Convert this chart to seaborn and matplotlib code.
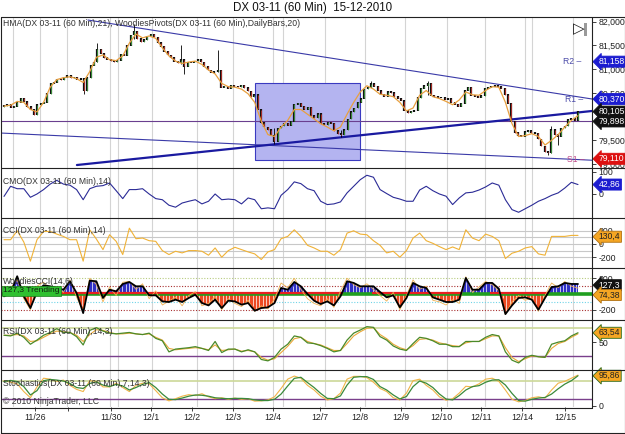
import numpy as np
import pandas as pd
import matplotlib
matplotlib.use("Agg")
import matplotlib.pyplot as plt
import matplotlib.transforms as mtrans
from matplotlib.patches import Rectangle
from matplotlib.lines import Line2D
import seaborn as sns

sns.set_theme(style="white")
plt.rcParams['font.family'] = ['Liberation Sans', 'DejaVu Sans']

# ---------------- data ----------------
title = "DX 03-11 (60 Min)  15-12-2010"
first_open = 80.20
close = [80.23, 80.25, 80.19, 80.22, 80.30, 80.39, 80.32, 80.21, 80.15, 80.04,
         80.25, 80.28, 80.30, 80.48, 80.70, 80.72, 80.79, 80.77, 80.83, 80.86,
         80.82, 80.83, 80.79, 80.80, 80.54, 80.82, 81.08, 81.15, 81.42, 81.33,
         81.24, 81.21, 81.18, 81.15, 81.19, 81.32, 81.29, 81.50, 81.72, 81.80,
         81.64, 81.58, 81.62, 81.70, 81.74, 81.68, 81.56, 81.48, 81.38, 81.30,
         81.24, 81.16, 81.13, 81.20, 81.06, 81.15, 81.14, 81.17, 81.20, 81.15,
         81.06, 80.98, 80.93, 80.95, 80.98, 80.62, 80.64, 80.60, 80.66, 80.64,
         80.63, 80.66, 80.61, 80.54, 80.42, 80.46, 80.15, 79.87, 79.78, 79.72,
         79.60, 79.48, 79.76, 79.80, 79.86, 79.82, 79.90, 80.26, 80.28, 80.22,
         80.15, 80.20, 80.02, 79.97, 80.06, 79.85, 79.83, 79.88, 79.86, 79.70,
         79.64, 79.61, 79.72, 79.95, 80.10, 80.18, 80.30, 80.38, 80.58, 80.62,
         80.69, 80.64, 80.55, 80.47, 80.43, 80.53, 80.50, 80.42, 80.38, 80.34,
         80.13, 80.08, 80.11, 80.13, 80.40, 80.60, 80.65, 80.70, 80.45, 80.42,
         80.39, 80.40, 80.36, 80.38, 80.30, 80.26, 80.22, 80.28, 80.55, 80.62,
         80.45, 80.43, 80.41, 80.44, 80.60, 80.62, 80.64, 80.65, 80.63, 80.60,
         80.46, 80.28, 79.90, 79.66, 79.60, 79.58, 79.68, 79.70, 79.66, 79.65,
         79.53, 79.38, 79.26, 79.24, 79.72, 79.62, 79.58, 79.76, 79.80, 79.94,
         79.96, 79.92, 80.105]
# notable wicks: bar index -> (low, high)
wicks = {24: (80.48, 80.80), 28: (81.15, 81.56), 39: (81.64, 81.95), 53: (81.10, 81.51),
         54: (80.90, 81.20), 64: (80.95, 81.40), 81: (79.43, 79.76), 101: (79.56, 79.72),
         110: (80.62, 80.76), 127: (80.45, 80.76), 163: (79.18, 79.28), 164: (79.24, 79.80),
         166: (79.40, 79.62)}

hma = [80.22, 80.24, 80.32, 80.30, 80.15, 80.10, 80.30, 80.62, 80.78, 80.82,
       80.84, 80.80, 80.72, 80.95, 81.25, 81.30, 81.20, 81.18, 81.28, 81.55,
       81.74, 81.66, 81.70, 81.65, 81.45, 81.28, 81.17, 81.12, 81.15, 81.17,
       81.10, 80.98, 80.90, 80.70, 80.63, 80.62, 80.58, 80.48, 80.30, 79.90,
       79.62, 79.58, 79.78, 79.92, 80.15, 80.15, 80.05, 79.95, 79.85, 79.78,
       79.70, 79.78, 80.05, 80.30, 80.52, 80.65, 80.58, 80.47, 80.45, 80.42,
       80.30, 80.12, 80.18, 80.45, 80.55, 80.42, 80.38, 80.32, 80.25, 80.35,
       80.52, 80.46, 80.45, 80.55, 80.63, 80.62, 80.30, 79.85, 79.58, 79.60,
       79.64, 79.58, 79.40, 79.50, 79.62, 79.78, 79.92, 80.02]

cmo = [-11, 35, 24, 24, -15, 0, 20, 45, 62, 45,
       40, 20, -26, 24, 35, 38, 50, 15, -21, 20,
       20, 24, 0, -21, -26, -51, -60, -41, -33, -26,
       -45, -33, 0, -26, -23, -26, -45, -18, -26, -67,
       -63, -67, -6, 20, 55, 47, 24, 15, -33, -48,
       -45, -36, 5, 35, 65, 85, 76, 20, 2, -15,
       -23, -33, -33, 18, 35, 15, 0, -10, -48, -18,
       5, 8, 18, 32, 50, 40, -26, -71, -83, -67,
       -51, -33, -21, -6, 5, 27, 53, 42.86]

cci = [65, 65, 200, 30, -260, 65, 190, 190, 150, 115,
       65, 65, -260, 215, 75, -85, 140, 40, -160, 240,
       80, 90, 50, 40, -100, -160, -110, -135, -100, -100,
       -110, -170, -60, -200, -100, -50, -85, -120, -150, -235,
       -120, -85, 80, 115, 215, 115, -20, -60, -110, -110,
       -170, -85, 165, 200, 150, 140, 50, -20, -135, -110,
       -200, -100, 90, 165, 50, 10, -40, -85, -45, -85,
       215, 90, 50, 150, 115, 50, -220, -140, -110, -60,
       -40, -150, -170, 115, 115, 115, 130, 130.4]

woodies = [-30, 13, 226, -30, -179, 26, 111, 98, 77, 55,
           162, 13, -243, 170, 162, -51, 55, 34, 128, 153,
           98, 98, -17, -17, -94, -102, -72, -102, -51, -9,
           -115, -145, -72, -179, -85, -94, -136, -115, -213, -179,
           -170, -115, 77, 55, 153, 98, 0, -85, -128, -94,
           -145, -30, 162, 141, 98, 98, 98, 26, -43, -17,
           -170, -51, 141, 98, 77, -43, -72, -102, -102, -72,
           204, 55, 55, 141, 141, 68, -256, -145, -51, -43,
           -72, -200, -51, 89, 98, 141, 128, 127.3]

turbo = [20, 80, 180, -60, -200, 100, 150, 60, 90, 20,
         180, -40, -220, 200, 120, -100, 90, -20, 150, 160,
         60, 130, -60, 40, -140, -90, -40, -150, -20, 30,
         -150, -120, -30, -200, -60, -120, -160, -80, -220, -150,
         -190, -60, 140, 80, 200, 60, -60, -120, -150, -60,
         -170, 40, 200, 120, 80, 130, 60, -20, -90, 20,
         -200, -20, 180, 60, 100, -80, -100, -140, -70, -120,
         220, 20, 90, 160, 120, 40, -260, -100, -20, -80,
         -50, -220, -20, 140, 80, 160, 100, 74.38]

rsi = [60, 59, 63, 57, 47, 53, 60, 64, 69.5, 64,
       64, 58, 46, 67, 71, 66, 63, 62, 63, 64,
       62, 61, 63, 55.5, 52, 36, 40, 41, 42, 43.5,
       41, 38, 51, 35, 40, 40, 36, 39, 36, 25,
       23, 28, 40, 47, 59, 57, 49, 48, 45, 41,
       36, 38, 53, 63, 67.5, 72.4, 71.4, 58, 53, 44.5,
       40, 38, 48, 57, 55.5, 52, 47, 47, 43.5, 43.5,
       51, 51, 51, 57, 61, 59, 36, 24, 20, 28,
       31, 29, 28, 47, 50, 52, 59, 63.54]
rsi_avg = [60, 60, 61, 59, 51, 52, 57, 62, 66, 65,
           64, 60, 51, 61, 68, 67, 64, 62, 62, 63,
           62, 61, 62, 57, 53, 41, 39, 40, 41, 42,
           41, 39, 46, 38, 39, 40, 37, 38, 36, 28,
           24, 26, 35, 44, 55, 57, 51, 48, 46, 42,
           38, 38, 48, 59, 65, 70, 71, 61, 55, 47,
           42, 39, 45, 54, 55, 53, 49, 47, 45, 44,
           49, 51, 51, 55, 59, 59, 42, 28, 22, 26,
           30, 29, 28, 41, 48, 51, 57, 62]

stoch_d = [77, 81, 77, 61, 34, 48, 80, 84, 82, 79,
           71, 58, 55, 71, 76, 66, 61, 68, 63, 50,
           58, 68, 74, 58, 37, 20, 19, 24, 30, 34,
           33, 30, 25, 23, 22, 23, 23, 22, 18, 16,
           16, 20, 37, 63, 87.5, 91, 74, 58, 39, 23,
           22, 31, 66, 91, 93, 93, 84, 61, 50, 34,
           21, 29, 61, 79, 72, 58, 37, 21, 18, 32,
           50, 61, 64, 75, 82, 83, 66, 39, 16, 14,
           20, 24, 26, 37, 54, 69, 80, 95.86]
stoch_k = [80, 75, 70, 45, 25, 60, 88, 85, 78, 82,
           65, 52, 45, 80, 78, 60, 60, 72, 58, 45,
           65, 72, 70, 48, 25, 15, 22, 30, 35, 32,
           38, 28, 22, 25, 20, 24, 20, 22, 14, 15,
           18, 28, 55, 85, 95, 88, 65, 50, 30, 18,
           22, 40, 85, 94, 94, 90, 75, 55, 45, 25,
           18, 40, 80, 85, 65, 50, 28, 17, 22, 40,
           62, 60, 70, 85, 88, 78, 50, 20, 12, 16,
           25, 28, 24, 50, 72, 78, 88, 98]

# time axis (hours from first bar), tick labels
tick_hours = [18.6, 38.4, 64.1, 88.1, 112.7, 137.2, 161.2, 189.4, 213.4, 237.9, 261.9, 285.9, 310.4, 336.2]
tick_labels = ["11/26", "", "11/30", "12/1", "12/2", "12/3", "12/4", "12/7", "12/8", "12/9",
               "12/10", "12/11", "12/14", "12/15"]
grid_hours = [5.4, 21.6, 37.8, 63.5, 68.3, 88.7, 115.7, 137.2, 161.2, 167.2, 192.4, 216.3,
              240.3, 265.5, 288.3, 312.2, 316.4, 341.0]

# drawing objects (hour, price)
upper_line = [(50.3, 82.036), (352.4, 80.371)]
lower_line = [(-2.4, 79.654), (352.4, 79.080)]
up_trend = [(43.7, 78.979), (352.4, 80.118)]
hline_price = 79.898
box = (150.4, 213.4, 79.085, 80.714)
pivots = {"R2": 81.158, "R1": 80.370, "S1": 79.110}

# ---------------- layout helpers ----------------
W, H = 625, 434
fig = plt.figure(figsize=(W / 100, H / 100), dpi=100)
fig.patch.set_facecolor("white")

def fx(px):
    return px / W

def fy(py):
    return 1 - py / H

def prect(x0, y0, x1, y1):
    return [x0 / W, 1 - y1 / H, (x1 - x0) / W, (y1 - y0) / H]

XL = (-1.8, 352.4)
hours_price = np.arange(len(close)) * 2.0
hours_ind = np.linspace(0, hours_price[-1], len(cmo))

panels = [("price", 17, 168, (78.916, 82.10)),
          ("cmo", 168, 218, (-109, 118)),
          ("cci", 218, 268, (-364, 394)),
          ("wood", 268, 320, (-331, 331)),
          ("rsi", 320, 370, (9.8, 82)),
          ("stoch", 370, 407, (-4.8, 114.5))]
axes = {}
for name, y0, y1, yl in panels:
    ax = fig.add_axes(prect(1, y0, 592, y1))
    ax.set_xlim(*XL)
    ax.set_ylim(*yl)
    for s in ax.spines.values():
        s.set_visible(False)
    ax.set_facecolor("white")
    ax.yaxis.tick_right()
    ax.tick_params(axis="y", labelsize=6.3, length=3, width=0.6, pad=1.5,
                   colors="#222222", direction="out", right=True, left=False)
    ax.tick_params(axis="x", bottom=False, labelbottom=False)
    for g in grid_hours:
        ax.axvline(g, color="#d4d4d4", lw=0.8, zorder=0)
    axes[name] = ax

TXT = dict(fontsize=6.2, color="#333333", va="center", ha="left")
GREY = "#c8c8c8"

# ---------------- price panel ----------------
ax = axes["price"]
h0, h1, p0, p1 = box
ax.add_patch(Rectangle((h0, p0), h1 - h0, p1 - p0, fc="#b4b4f0", ec="#3a3ac0", lw=0.8, zorder=1))
ax.axhline(hline_price, color="#6a3f8f", lw=0.8, zorder=2)
ax.plot(*zip(*upper_line), color="#3a3aa8", lw=0.8, zorder=2)
ax.plot(*zip(*lower_line), color="#3a3aa8", lw=0.8, zorder=2)
ax.plot(*zip(*up_trend), color="#1a1aa0", lw=1.6, zorder=2)

c = np.array(close)
o = np.array([first_open] + close[:-1])
for i, (lo_, hi_) in wicks.items():
    ax.vlines(hours_price[i], lo_, hi_, color="black", lw=0.6, zorder=3)
lo = np.minimum(o, c) - 0.008
hi = np.maximum(o, c) + 0.008
ax.vlines(hours_price, lo, hi, color="#111111", lw=1.6, zorder=4)
up = c >= o
ax.vlines(hours_price[up], lo[up] + 0.010, hi[up] - 0.010, color="#3fa03f", lw=0.6, zorder=5)
ax.vlines(hours_price[~up], lo[~up] + 0.010, hi[~up] - 0.010, color="#c03028", lw=0.6, zorder=5)
sns.lineplot(x=hours_ind, y=hma, ax=ax, color="#e8a040", lw=0.9, zorder=6)
pt = [79.0, 79.5, 80.5, 81.0, 81.5, 82.0]
ax.set_yticks(pt)
ax.set_yticklabels([f"{v:.3f}".replace(".", ",") for v in pt])

# ---------------- CMO ----------------
ax = axes["cmo"]
sns.lineplot(x=hours_ind, y=cmo, ax=ax, color="#2b2b96", lw=0.8)
ax.set_yticks([0, 100]); ax.set_yticklabels(["0", "100"])

# ---------------- CCI ----------------
ax = axes["cci"]
for lv in [200, 100, 0, -100, -200]:
    ax.axhline(lv, color=GREY, lw=0.8, zorder=1)
sns.lineplot(x=hours_ind, y=cci, ax=ax, color="#f0b236", lw=0.8, zorder=3)
ax.set_yticks([-200, 0, 200]); ax.set_yticklabels(["-200", "0", "200"])

# ---------------- Woodies CCI ----------------
ax = axes["wood"]
ax.axhline(200, color="#b8cc80", lw=0.8, ls=(0, (1, 1.5)), zorder=1)
ax.axhline(100, color="#a83030", lw=0.8, ls=(0, (1, 1.5)), zorder=1)
ax.axhline(-100, color="#70d4e8", lw=0.8, ls=(0, (1, 1.5)), zorder=1)
ax.axhline(-200, color="#a83030", lw=0.8, ls=(0, (1, 1.5)), zorder=1)
wv = np.array(woodies, dtype=float)
ax.fill_between(hours_ind, 0, wv, where=wv >= 0, interpolate=True, color="#3030c4", lw=0, zorder=2)
ax.fill_between(hours_ind, 0, wv, where=wv < 0, interpolate=True, color="#ec4a22", lw=0, zorder=2)
# striped look of the histogram
stripe_top = np.interp(hours_price, hours_ind, wv)
ax.vlines(hours_price + 1.0, 0, stripe_top, color="white", lw=0.5, zorder=2.5)
ax.axhline(0, color="#1f9f1f", lw=2.6, zorder=3)
red_segments = [(30.8, 203.2), (220.5, 274.5), (291.3, 326.0)]
for a_, b_ in red_segments:
    ax.plot([a_, b_], [18, 18], color="#e82020", lw=1.6, zorder=3, solid_capstyle="butt")
sns.lineplot(x=hours_ind, y=turbo, ax=ax, color="#f0b050", lw=0.6, zorder=4)
sns.lineplot(x=hours_ind, y=woodies, ax=ax, color="black", lw=1.3, zorder=5)
ax.set_yticks([-200, 0, 200]); ax.set_yticklabels(["-200", "0", "200"])

# ---------------- RSI ----------------
ax = axes["rsi"]
ax.axhline(70, color="#ccd898", lw=1.2, zorder=1)
ax.axhline(30, color="#7a3f8c", lw=1.0, zorder=1)
sns.lineplot(x=hours_ind, y=rsi_avg, ax=ax, color="#eaa838", lw=0.8, zorder=2)
sns.lineplot(x=hours_ind, y=rsi, ax=ax, color="#4a8a2a", lw=0.9, zorder=3)
ax.set_yticks([50]); ax.set_yticklabels(["50"])

# ---------------- Stochastics ----------------
ax = axes["stoch"]
ax.axhline(80, color="#ccd898", lw=1.2, zorder=1)
ax.axhline(20, color="#7a3f8c", lw=1.0, zorder=1)
sns.lineplot(x=hours_ind, y=stoch_k, ax=ax, color="#f0b448", lw=0.8, zorder=2)
sns.lineplot(x=hours_ind, y=stoch_d, ax=ax, color="#3a8a3a", lw=0.9, zorder=3)
ax.set_yticks([0]); ax.set_yticklabels(["0"])
ax.set_xticks(tick_hours)
ax.set_xticklabels(tick_labels)
ax.tick_params(axis="x", bottom=True, labelbottom=True, labelsize=6.3, length=3,
               width=0.6, pad=1, colors="#222222", direction="out")

for a in axes.values():
    a.set_xlabel(""); a.set_ylabel("")

# ---------------- frame lines ----------------
def fline(x0, y0, x1, y1, lw=0.8, col="#222222"):
    fig.add_artist(Line2D([fx(x0), fx(x1)], [fy(y0), fy(y1)], color=col, lw=lw))

for yy in [17, 168, 218, 268, 320, 370]:
    fline(0.5, yy, 624.5, yy)
fline(0.5, 407.5, 592, 407.5)
fline(592, 17, 592, 407.5)
fline(0.5, 17, 0.5, 433.5)
fline(624.5, 17, 624.5, 433.5)
fline(0.5, 433.3, 624.5, 433.3)

# ---------------- texts ----------------
fig.text(fx(313), fy(8), title, fontsize=8.3, color="#111111", ha="center", va="center")
fig.text(fx(3), fy(24), "HMA(DX 03-11 (60 Min),21), WoodiesPivots(DX 03-11 (60 Min),DailyBars,20)", **TXT)
fig.text(fx(3), fy(181), "CMO(DX 03-11 (60 Min),14)", **TXT)
fig.text(fx(3), fy(230), "CCI(DX 03-11 (60 Min),14)", **TXT)
fig.text(fx(3), fy(281), "WoodiesCCI(14,6)", **TXT)
fig.text(fx(3), fy(291), "127,3 Trending", fontsize=6.0, color="#102010", va="center", ha="left",
         bbox=dict(boxstyle="square,pad=0.15", fc="#2fc02f", ec="#1a801a", lw=0.5))
fig.text(fx(3), fy(332), "RSI(DX 03-11 (60 Min),14,3)", **TXT)
fig.text(fx(3), fy(383), "Stochastics(DX 03-11 (60 Min),7,14,3)", **TXT)
fig.text(fx(3), fy(401), "\u00a9 2010 NinjaTrader, LLC", **TXT)

fig.text(fx(563), fy(62), "R2 \u2013", fontsize=6.2, color="#4a4aa8", va="center", ha="left")
fig.text(fx(565), fy(99), "R1 \u2013", fontsize=6.2, color="#4a4aa8", va="center", ha="left")
fig.text(fx(567), fy(159), "S1 \u2013", fontsize=6.2, color="#c04888", va="center", ha="left")
fig.text(fx(573), fy(29), "\u25b7", fontsize=11, color="#222222", va="center", ha="left",
         family=["DejaVu Sans"])
fig.add_artist(Rectangle((fx(584), fy(36)), 3 / W, 13 / H, fc="#9a9a9a", ec="none"))

# right-side value tags
def tag(ax, yval, text, fc, tc="white", ec=None):
    tr = mtrans.blended_transform_factory(ax.transAxes, ax.transData)
    ax.text(1.0115, yval, text, transform=tr, fontsize=6.2, color=tc, va="center", ha="left",
            zorder=20, clip_on=False,
            bbox=dict(boxstyle="larrow,pad=0.12", fc=fc, ec=ec or fc, lw=0.6))

tag(axes["price"], pivots["R2"], "81,158", "#1c1cd0")
tag(axes["price"], pivots["R1"], "80,370", "#1c1cd0")
tag(axes["price"], close[-1], "80,105", "#111111")
tag(axes["price"], hline_price, "79,898", "#111111")
tag(axes["price"], pivots["S1"], "79,110", "#dd1010")
tag(axes["cmo"], cmo[-1], "42,86", "#1c1cd0")
tag(axes["cci"], 110, "130,4", "#f5a623", tc="#222222", ec="#b07010")
tag(axes["wood"], 112, "127,3", "#111111")
tag(axes["wood"], -12, "74,38", "#f5a623", tc="#222222", ec="#b07010")
tag(axes["rsi"], rsi[-1], "63,54", "#f5a623", tc="#222222", ec="#2a6a1a")
tag(axes["stoch"], stoch_d[-1], "95,86", "#f5a623", tc="#222222", ec="#2a6a1a")

fig.savefig("out.png", dpi=100, facecolor="white")
